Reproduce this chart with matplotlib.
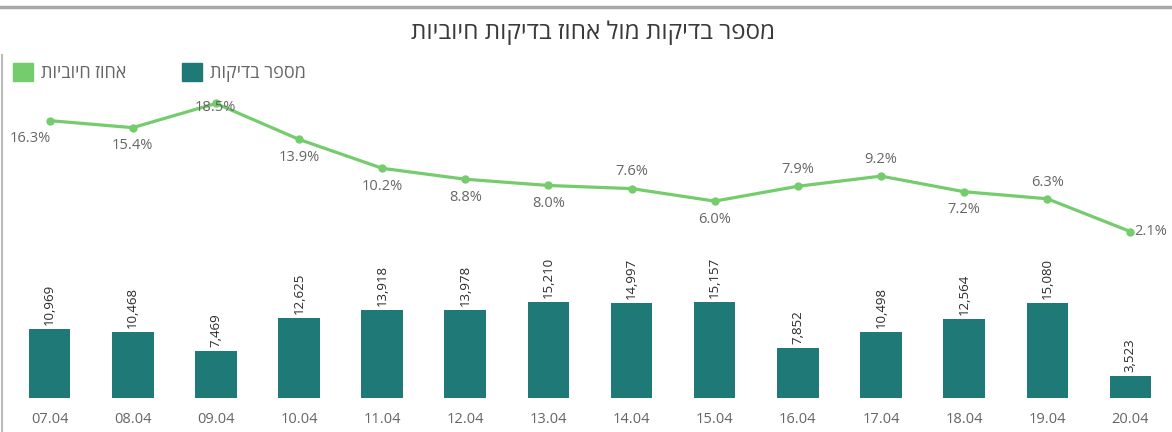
import matplotlib.pyplot as plt
from matplotlib.lines import Line2D
from matplotlib.patches import Patch

plt.rcParams["font.family"] = ["Open Sans", "DejaVu Sans"]

TITLE = "מספר בדיקות מול אחוז בדיקות חיוביות"
TESTS_LABEL = "מספר בדיקות"
POSITIVE_LABEL = "אחוז חיוביות"

dates = ["07.04", "08.04", "09.04", "10.04", "11.04", "12.04", "13.04",
         "14.04", "15.04", "16.04", "17.04", "18.04", "19.04", "20.04"]
tests = [10969, 10468, 7469, 12625, 13918, 13978, 15210,
         14997, 15157, 7852, 10498, 12564, 15080, 3523]
positive_pct = [16.3, 15.4, 18.5, 13.9, 10.2, 8.8, 8.0,
                7.6, 6.0, 7.9, 9.2, 7.2, 6.3, 2.1]

TEAL = "#1f7a77"
GREEN = "#74cc6c"
TEXT_GRAY = "#666666"
W, H = 1172, 432


def rtl(text: str) -> str:
    # matplotlib has no bidi support, so flip Hebrew to visual order
    return text[::-1]


def draw_bars(ax) -> None:
    x = range(len(dates))
    ax.bar(x, tests, width=0.5, color=TEAL)
    ax.set_xlim(-0.5, len(dates) - 0.5)
    ax.set_ylim(0, 50400)
    ax.set_yticks([])
    ax.set_xticks(list(x), dates)
    ax.tick_params(axis="x", length=0, pad=10, labelsize=10.5, labelcolor=TEXT_GRAY)
    for spine in ax.spines.values():
        spine.set_visible(False)
    for i, v in enumerate(tests):
        ax.annotate(f"{v:,}", (i, v), xytext=(0, 3), textcoords="offset points",
                    rotation=90, ha="center", va="bottom", fontsize=9.5, color="#2a2a2a")


def draw_line(ax) -> None:
    sides = ["first", "below", "on", "below", "below", "below", "below",
             "above", "below", "above", "above", "below", "above", "right"]
    x = list(range(len(dates)))
    ax.plot(x, positive_pct, color=GREEN, lw=2.3, marker="o", ms=5, zorder=3)
    ax.set_ylim(-19.2, 21.5)
    ax.set_yticks([])
    for spine in ax.spines.values():
        spine.set_visible(False)
    for i, (v, side) in enumerate(zip(positive_pct, sides)):
        text = f"{v:.1f}%"
        kw = dict(textcoords="offset points", fontsize=10.5, color=TEXT_GRAY, zorder=4)
        if side == "below":
            ax.annotate(text, (i, v), xytext=(0, -13), ha="center", va="center", **kw)
        elif side == "above":
            ax.annotate(text, (i, v), xytext=(0, 12), ha="center", va="center", **kw)
        elif side == "on":
            ax.annotate(text, (i, v), xytext=(0, -3), ha="center", va="center", **kw)
        elif side == "first":
            ax.annotate(text, (-0.5, v), xytext=(1, -13), ha="left", va="center", **kw)
        else:
            ax.annotate(text, (i, v), xytext=(3, 0), ha="left", va="center", **kw)


def main() -> None:
    fig = plt.figure(figsize=(W / 100, H / 100), dpi=100)
    ax = fig.add_axes([8 / W, 34 / H, (W - 8) / W, 318 / H])
    draw_bars(ax)
    ax2 = ax.twinx()
    draw_line(ax2)

    fig.text(0.506, 1 - 33 / H, rtl(TITLE), ha="center", va="center",
             fontsize=17.5, color="#3a3a3a")

    handles = [Patch(color=GREEN, label=rtl(POSITIVE_LABEL)),
               Patch(color=TEAL, label=rtl(TESTS_LABEL))]
    fig.legend(handles=handles, loc="upper left", bbox_to_anchor=(-3 / W, 1 - 47 / H),
               ncol=2, frameon=False, handlelength=1.1, handleheight=1.1,
               handletextpad=0.45, columnspacing=3.1, fontsize=13, labelcolor=TEXT_GRAY)

    # frame lines of the original visual
    fig.add_artist(Line2D([0, 1], [1 - 7 / H, 1 - 7 / H], color="#a8a8a8", lw=2.5,
                          transform=fig.transFigure))
    fig.add_artist(Line2D([2 / W, 2 / W], [0, 1 - 55 / H], color="#bbbbbb", lw=1.5,
                          transform=fig.transFigure))

    fig.savefig("out.png", dpi=100)
    plt.close(fig)


if __name__ == "__main__":
    main()
